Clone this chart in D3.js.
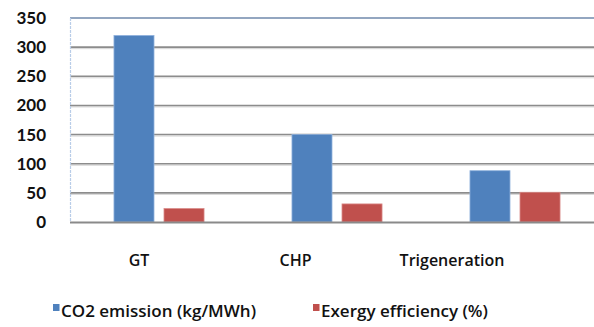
<!DOCTYPE html>
<html><head><meta charset="utf-8">
<script src="https://cdn.jsdelivr.net/npm/d3@7"></script>
<style>body{margin:0;background:#fff}svg{display:block}</style>
</head><body>
<svg id="c" width="594" height="327"></svg>
<script>
const categories = ["GT", "CHP", "Trigeneration"];
const seriesNames = ["CO2 emission (kg/MWh)", "Exergy efficiency (%)"];
const co2Values = [320, 150, 88];
const exergyValues = [23, 31, 51];
const yTicks = [0, 50, 100, 150, 200, 250, 300, 350];
const colors = ["#4f81bd", "#c0504d"];
const edgeColors = ["#8fb1dc", "#d98a88"];

(function () {
const svg = d3.select("#c");
const pLeft = 70, pRight = 604, pTop = 18, pBottom = 222;
const y = d3.scaleLinear().domain([0, 350]).range([pBottom, pTop]);
const x = d3.scaleBand().domain(categories).range([pLeft, pRight]).paddingInner(0.494).paddingOuter(0.247);
const xs = d3.scaleBand().domain([0, 1]).range([0, x.bandwidth()]).paddingInner(0.2);
const xLabel = d3.scalePoint().domain(categories).range([139, 452]);

// gridlines
const grid = svg.append("g");
yTicks.filter(t => t > 0 && t < 350).forEach(t => {
  grid.append("line").attr("x1", pLeft).attr("x2", 594).attr("y1", y(t) + 1.5).attr("y2", y(t) + 1.5)
    .attr("stroke", "#d4d4d4").attr("stroke-width", 1);
  grid.append("line").attr("x1", pLeft).attr("x2", 594).attr("y1", y(t)).attr("y2", y(t))
    .attr("stroke", "#8c8c8c").attr("stroke-width", 1.6);
});
// top border
svg.append("line").attr("x1", pLeft).attr("x2", 594).attr("y1", y(350)).attr("y2", y(350))
  .attr("stroke", "#6f88ab").attr("stroke-width", 1.5);
// left dashed axis
svg.append("line").attr("x1", pLeft + 0.5).attr("x2", pLeft + 0.5).attr("y1", y(350)).attr("y2", y(0))
  .attr("stroke", "#b9cde8").attr("stroke-width", 1.2).attr("stroke-dasharray", "3,1");

// bars
const data = categories.map((c, i) => ({ c, vals: [co2Values[i], exergyValues[i]] }));
const groups = svg.append("g").selectAll("g").data(data).join("g")
  .attr("transform", d => `translate(${x(d.c)},0)`);
groups.selectAll("rect").data(d => d.vals.map((v, k) => ({ v, k }))).join("rect")
  .attr("x", d => xs(d.k))
  .attr("y", d => y(d.v))
  .attr("width", xs.bandwidth())
  .attr("height", d => y(0) - y(d.v))
  .attr("fill", d => colors[d.k])
  .attr("stroke", d => edgeColors[d.k])
  .attr("stroke-width", 0.8);

// bottom axis line
svg.append("line").attr("x1", pLeft).attr("x2", 594).attr("y1", y(0) + 0.5).attr("y2", y(0) + 0.5)
  .attr("stroke", "#8a8a8a").attr("stroke-width", 2);

// y tick labels
svg.append("g").selectAll("text").data(yTicks).join("text")
  .attr("x", 46).attr("y", d => y(d) + 6)
  .attr("text-anchor", "end")
  .attr("font-family", "Lato, 'Open Sans', sans-serif")
  .attr("font-weight", "bold").attr("font-size", 17).attr("fill", "#111")
  .text(d => d);

// category labels
svg.append("g").selectAll("text").data(categories).join("text")
  .attr("x", d => xLabel(d)).attr("y", 266)
  .attr("text-anchor", "middle")
  .attr("font-family", "'Open Sans', Lato, sans-serif")
  .attr("font-weight", 600).attr("font-size", 16).attr("fill", "#111")
  .text(d => d);

// legend
const legendX = [53, 313];
const lg = svg.append("g").selectAll("g").data(seriesNames).join("g")
  .attr("transform", (d, i) => `translate(${legendX[i]},0)`);
lg.append("rect").attr("x", 0).attr("y", 304).attr("width", 6.5).attr("height", 7)
  .attr("fill", (d, i) => colors[i]);
lg.append("text").attr("x", 8).attr("y", 317)
  .attr("font-family", "'Open Sans', Lato, sans-serif")
  .attr("font-weight", 600).attr("font-size", 17).attr("fill", "#111")
  .text(d => d);
})();
</script>
</body></html>
